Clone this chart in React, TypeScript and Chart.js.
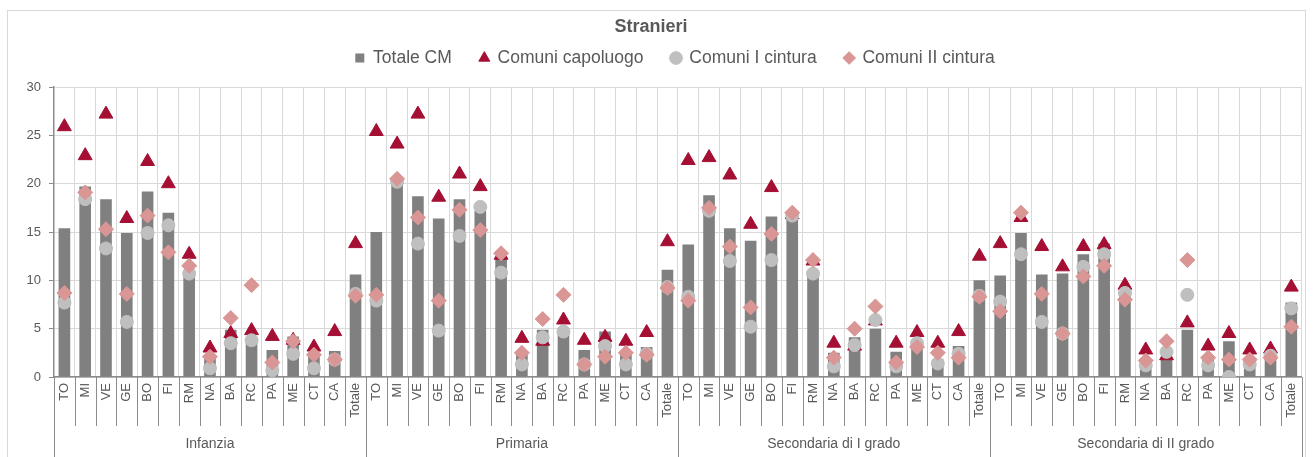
import React, { useEffect, useRef } from 'react';
import { Chart, registerables } from 'chart.js';

Chart.register(...registerables);

const groups = ['Infanzia', 'Primaria', 'Secondaria di I grado', 'Secondaria di II grado'];
const cities = ['TO', 'MI', 'VE', 'GE', 'BO', 'FI', 'RM', 'NA', 'BA', 'RC', 'PA', 'ME', 'CT', 'CA', 'Totale'];
const yTicks = [0, 5, 10, 15, 20, 25, 30];

// Totale CM (bars)
const totaleCM = [
  15.4, 19.7, 18.4, 14.9, 19.2, 17.0, 10.9, 2.0, 4.9, 3.8, 2.8, 4.2, 2.4, 2.7, 10.6,
  15.0, 20.3, 18.7, 16.4, 18.4, 17.2, 12.4, 2.6, 4.9, 4.8, 2.8, 4.7, 2.4, 3.1, 11.1,
  13.7, 18.8, 15.4, 14.1, 16.6, 16.9, 10.7, 2.5, 4.1, 5.0, 2.6, 3.0, 1.8, 3.2, 10.0,
  10.5, 14.9, 10.6, 10.7, 12.7, 13.8, 8.6, 1.5, 2.1, 4.9, 2.0, 3.7, 1.7, 2.0, 7.7,
];
// Comuni capoluogo (triangles)
const capoluogo = [
  25.9, 22.9, 27.2, 16.4, 22.3, 20.0, 12.7, 3.0, 4.5, 4.8, 4.2, 3.8, 3.1, 4.7, 13.8,
  25.4, 24.1, 27.2, 18.6, 21.0, 19.7, 12.6, 4.0, 3.7, 5.9, 3.8, 4.1, 3.7, 4.6, 14.0,
  22.4, 22.7, 20.9, 15.8, 19.6, 16.8, 12.0, 3.5, 3.2, 5.8, 3.5, 4.6, 3.5, 4.7, 12.5,
  13.8, 16.5, 13.5, 11.4, 13.5, 13.7, 9.5, 2.8, 2.2, 5.6, 3.2, 4.5, 2.8, 2.9, 9.3,
];
// Comuni I cintura (circles)
const primaCintura = [
  7.7, 18.4, 13.3, 5.7, 14.9, 15.7, 10.7, 0.9, 3.5, 3.8, 0.7, 2.4, 0.9, 1.8, 8.6,
  7.9, 20.2, 13.8, 4.8, 14.6, 17.6, 10.8, 1.3, 4.1, 4.7, 1.3, 3.2, 1.3, 2.4, 9.3,
  8.3, 17.2, 12.0, 5.2, 12.1, 16.7, 10.7, 1.1, 3.3, 5.9, 1.1, 3.5, 1.4, 2.4, 8.4,
  7.8, 12.7, 5.7, 4.5, 11.4, 12.7, 8.7, 1.2, 2.6, 8.5, 1.2, 0.0, 1.3, 2.2, 7.1,
];
// Comuni II cintura (diamonds)
const secondaCintura = [
  8.7, 19.1, 15.3, 8.6, 16.7, 12.9, 11.5, 2.1, 6.1, 9.5, 1.5, 3.7, 2.3, 1.8, 8.4,
  8.5, 20.5, 16.5, 7.9, 17.3, 15.2, 12.8, 2.5, 6.0, 8.5, 1.3, 2.1, 2.5, 2.3, 9.2,
  7.9, 17.5, 13.5, 7.2, 14.8, 17.0, 12.1, 2.0, 5.0, 7.3, 1.5, 3.1, 2.5, 2.0, 8.3,
  6.8, 17.0, 8.6, 4.5, 10.4, 11.5, 8.0, 1.7, 3.7, 12.1, 2.0, 1.8, 1.8, 2.0, 5.2,
];

const labels = groups.flatMap(() => cities);

const FONT = "'Liberation Sans', Arial, sans-serif";
const TEXT = '#595959';

const decor = {
  id: 'decor',
  beforeInit(chart: any) {
    const orig = chart.legend.fit;
    chart.legend.fit = function () {
      orig.call(this);
      this.height += 10.3;
    };
  },
  afterLayout(chart: any) {
    chart.legend.left += 24;
    chart.legend.right += 24;
  },
  beforeDraw(chart: any) {
    const ctx = chart.ctx;
    ctx.save();
    ctx.fillStyle = '#ffffff';
    ctx.fillRect(0, 0, chart.width, chart.height);
    ctx.strokeStyle = '#d9d9d9';
    ctx.lineWidth = 1;
    ctx.strokeRect(7.5, 10.5, 1298, 470);
    ctx.restore();
  },
  afterDraw(chart: any) {
    const { ctx, chartArea, scales } = chart;
    const x = scales.x;
    const n = labels.length;
    const step = x.getPixelForValue(1) - x.getPixelForValue(0);
    const start = x.getPixelForValue(0) - step / 2;
    ctx.save();
    ctx.strokeStyle = '#8c8c8c';
    ctx.lineWidth = 1;
    for (let i = 0; i <= n; i++) {
      const px = Math.round(start + i * step) + 0.5;
      const isGroup = i % cities.length === 0;
      ctx.beginPath();
      ctx.moveTo(px, chartArea.bottom);
      ctx.lineTo(px, isGroup ? chart.height : chartArea.bottom + 49);
      ctx.stroke();
    }
    ctx.fillStyle = TEXT;
    ctx.font = `14px ${FONT}`;
    ctx.textAlign = 'center';
    ctx.textBaseline = 'middle';
    groups.forEach((g, gi) => {
      const cx = start + (gi * cities.length + cities.length / 2) * step;
      ctx.fillText(g, cx, chartArea.bottom + 67);
    });
    ctx.restore();
  },
};

export default function App() {
  const ref = useRef<HTMLCanvasElement>(null);
  useEffect(() => {
    if (!ref.current) return;
    const chart = new Chart(ref.current, {
      type: 'bar',
      data: {
        labels,
        datasets: [
          {
            type: 'bar',
            label: 'Totale CM',
            data: totaleCM,
            backgroundColor: '#808080',
            borderWidth: 0,
            barPercentage: 0.56,
            categoryPercentage: 1,
            pointStyle: 'rect',
            order: 4,
          } as any,
          {
            type: 'line',
            label: 'Comuni capoluogo',
            data: capoluogo,
            showLine: false,
            pointStyle: 'triangle',
            pointRadius: 8,
            backgroundColor: '#A50F34',
            borderColor: '#A50F34',
            borderWidth: 1,
            order: 3,
          },
          {
            type: 'line',
            label: 'Comuni I cintura',
            data: primaCintura,
            showLine: false,
            pointStyle: 'circle',
            pointRadius: 6.5,
            backgroundColor: '#BFBFBF',
            borderColor: '#BFBFBF',
            borderWidth: 1,
            order: 2,
          },
          {
            type: 'line',
            label: 'Comuni II cintura',
            data: secondaCintura,
            showLine: false,
            pointStyle: 'rectRot',
            pointRadius: 7.5,
            backgroundColor: '#D99694',
            borderColor: '#D99694',
            borderWidth: 1,
            order: 1,
          },
        ],
      },
      options: {
        responsive: false,
        animation: false,
        events: [],
        layout: { padding: { left: 0, right: 11, top: 0, bottom: 0 } },
        plugins: {
          title: {
            display: true,
            text: 'Stranieri',
            color: TEXT,
            font: { family: FONT, size: 18, weight: 'bold' },
            padding: { top: 16, bottom: -16.35 },
          },
          legend: {
            display: true,
            labels: {
              usePointStyle: true,
              boxWidth: 9,
              boxHeight: 9,
              padding: 28,
              color: TEXT,
              font: { family: FONT, size: 17.5 },
              sort: (a: any, b: any) => a.datasetIndex - b.datasetIndex,
            },
          },
          tooltip: { enabled: false },
        },
        scales: {
          x: {
            type: 'category',
            offset: true,
            grid: { display: true, color: '#d9d9d9', offset: true, drawTicks: false },
            border: { display: true, color: '#8c8c8c', width: 1.5 },
            ticks: {
              autoSkip: false,
              maxRotation: 90,
              minRotation: 90,
              padding: 6,
              color: TEXT,
              font: { family: FONT, size: 13 },
            },
            afterFit: (s: any) => { s.height = 80; },
          },
          y: {
            min: 0,
            max: 30,
            afterBuildTicks: (s: any) => { s.ticks = yTicks.map((v) => ({ value: v })); },
            grid: { color: '#d9d9d9', tickLength: 5, tickColor: '#8c8c8c' },
            border: { display: true, color: '#8c8c8c', width: 1.5 },
            ticks: { padding: 8, color: TEXT, font: { family: FONT, size: 13 } },
            afterFit: (s: any) => { s.width = 54; },
          },
        },
      },
      plugins: [decor],
    } as any);
    return () => chart.destroy();
  }, []);
  return (
    <div style={{ position: 'absolute', left: 0, top: 0, width: 1313, height: 457 }}>
      <canvas ref={ref} width={1313} height={457} style={{ display: 'block' }} />
    </div>
  );
}
